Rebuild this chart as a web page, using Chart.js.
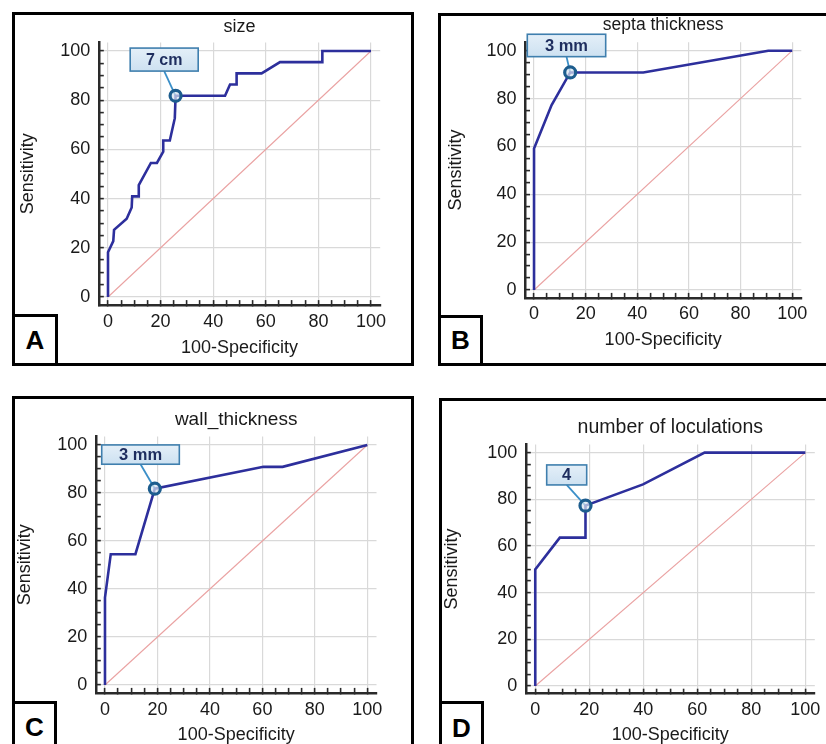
<!DOCTYPE html>
<html><head><meta charset="utf-8">
<script src="https://cdn.jsdelivr.net/npm/chart.js@4.4.1/dist/chart.umd.min.js"></script>
<style>
html,body{margin:0;padding:0;background:#fff;width:826px;height:744px;overflow:hidden;position:relative;}
.frame{position:absolute;border:3px solid #000;box-sizing:border-box;}
canvas{position:absolute;}
.letter{position:absolute;border:3px solid #000;box-sizing:border-box;background:#fff;display:flex;align-items:center;justify-content:center;font:bold 26px 'Liberation Sans',Arial,sans-serif;color:#000;}
</style></head><body>
<div class="frame" style="left:12px;top:12px;width:402px;height:354px"></div>
<div class="frame" style="left:438px;top:13px;width:410px;height:353px"></div>
<div class="frame" style="left:12px;top:396px;width:402px;height:400px"></div>
<div class="frame" style="left:439px;top:398px;width:410px;height:400px"></div>
<canvas id="cA" width="402" height="354" style="left:12px;top:12px"></canvas>
<canvas id="cB" width="388" height="354" style="left:438px;top:12px"></canvas>
<canvas id="cC" width="402" height="360" style="left:12px;top:396px"></canvas>
<canvas id="cD" width="387" height="360" style="left:439px;top:398px"></canvas>
<div class="letter" style="left:12px;top:314px;width:46px;height:52px">A</div>
<div class="letter" style="left:438px;top:315px;width:45px;height:51px">B</div>
<div class="letter" style="left:12px;top:701px;width:45px;height:53px">C</div>
<div class="letter" style="left:439px;top:701px;width:45px;height:54px">D</div>
<script>
// ---------- data ----------
const tickValues = [0,5,10,15,20,25,30,35,40,45,50,55,60,65,70,75,80,85,90,95,100];
const tickLabels = [0,20,40,60,80,100];
const chanceX = [0,100];
const chanceY = [0,100];

const titles = ['size','septa thickness','wall_thickness','number of loculations'];
const xAxisTitle = '100-Specificity';
const yAxisTitle = 'Sensitivity';

const sizeX = [0, 0, 2.0, 2.3, 7.1, 9.0, 9.2, 11.5, 11.7, 16.3, 18.6, 21.0, 21.0, 23.5, 25.4, 25.7, 44.5, 46.4, 48.9, 48.9, 58.4, 65.4, 81.5, 81.5, 100];
const sizeY = [0, 18.2, 22.7, 27.3, 31.8, 36.4, 40.9, 40.9, 45.5, 54.5, 54.5, 59.1, 63.6, 63.6, 72.7, 81.8, 81.8, 86.4, 86.4, 90.9, 90.9, 95.5, 95.5, 100, 100];

const septaX = [0, 0, 6.8, 14.0, 42.3, 90.7, 100];
const septaY = [0, 59.1, 77.3, 90.9, 90.9, 100, 100];

const wallX = [0, 0, 2.2, 11.6, 19.0, 60.4, 67.7, 100];
const wallY = [0, 36.4, 54.5, 54.5, 81.8, 90.9, 90.9, 100];

const locX = [0, 0, 9.1, 18.6, 18.6, 39.9, 62.7, 100];
const locY = [0, 50, 63.6, 63.6, 77.3, 86.4, 100, 100];

const curvesX = [sizeX, septaX, wallX, locX];
const curvesY = [sizeY, septaY, wallY, locY];

const cutoffX = [25.7, 14.0, 19.0, 18.6];
const cutoffY = [81.8, 90.9, 81.8, 77.3];
const cutoffLabels = ['7 cm', '3 mm', '3 mm', '4'];

// ---------- layout / style ----------
const FONT = "'Liberation Sans', Arial, sans-serif";
const X_MIN = -3.5, X_MAX = 103.5, Y_MIN = -3.3, Y_MAX = 103.5;
const TICK_LEN = 5;
const layouts = [
  {canvas:'cA', w:402, h:354, area:[86.8, 30.4, 368.2, 293.1], titleSize:18, titleMid:14.6, yTitleMid:16.3, xTitleMid:336.3, xTickGap:5.8, yTickGap:8.5, box:[-11.4,-36.2,68,23], boxFont:16},
  {canvas:'cB', w:388, h:354, area:[87.0, 30.3, 363.3, 285.9], titleSize:17.5, titleMid:13.6, yTitleMid:17.6, xTitleMid:327.9, xTickGap:5.5, yTickGap:8.5, box:[-3.7,-27,78.4,22.4], boxFont:16.5},
  {canvas:'cC', w:402, h:360, area:[83.8, 40.6, 364.5, 296.9], titleSize:19, titleMid:24, yTitleMid:12.9, xTitleMid:338.9, xTickGap:6.3, yTickGap:8.5, box:[-14.3,-34.1,77.6,19.3], boxFont:16.5},
  {canvas:'cD', w:387, h:360, area:[86.8, 46.5, 375.8, 295.7], titleSize:19.5, titleMid:30, yTitleMid:12.9, xTitleMid:336.9, xTickGap:6.0, yTickGap:8.5, box:[-18.8,-30.7,40,20], boxFont:16.5}
];

const cutoffBoxPlugin = {
  id: 'cutoffBox',
  beforeDatasetsDraw(chart, args, o) {
    const p = chart.getDatasetMeta(0).data[0];
    const cx = p.x + o.dx, cy = p.y + o.dy;
    const ctx = chart.ctx;
    ctx.save();
    ctx.strokeStyle = '#3b8fc8';
    ctx.lineWidth = 1.8;
    ctx.beginPath();
    ctx.moveTo(cx, cy + o.h / 2);
    ctx.lineTo(p.x, p.y);
    ctx.stroke();
    ctx.restore();
  },
  afterDatasetsDraw(chart, args, o) {
    const p = chart.getDatasetMeta(0).data[0];
    const cx = p.x + o.dx, cy = p.y + o.dy;
    const x = cx - o.w / 2, y = cy - o.h / 2;
    const ctx = chart.ctx;
    ctx.save();
    const g = ctx.createLinearGradient(0, y, 0, y + o.h);
    g.addColorStop(0, '#e4eff8');
    g.addColorStop(1, '#cde1f1');
    ctx.fillStyle = g;
    ctx.fillRect(x, y, o.w, o.h);
    ctx.strokeStyle = '#3f7fae';
    ctx.lineWidth = 1.6;
    ctx.strokeRect(x, y, o.w, o.h);
    ctx.fillStyle = '#1e2d5e';
    ctx.font = 'bold ' + o.font + 'px ' + FONT;
    ctx.textAlign = 'center';
    ctx.textBaseline = 'middle';
    ctx.fillText(o.text, cx, cy + 1);
    ctx.restore();
  }
};

function makeScale(axis, L) {
  const lh = 18 * 1.2;
  const isX = axis === 'x';
  return {
    type: 'linear',
    position: isX ? 'bottom' : 'left',
    min: isX ? X_MIN : Y_MIN,
    max: isX ? X_MAX : Y_MAX,
    bounds: 'data',
    afterBuildTicks: s => { s.ticks = tickValues.map(v => ({value: v})); },
    afterFit: s => {
      if (isX) { s.height = L.h - L.area[3]; s.paddingLeft = 0; s.paddingRight = 0; }
      else { s.width = L.area[0]; s.paddingTop = 0; s.paddingBottom = 0; }
    },
    border: {display: true, color: '#2a2a2a', width: 2.5},
    grid: {
      color: c => (c.tick && tickLabels.includes(c.tick.value)) ? '#d9d9d9' : 'rgba(0,0,0,0)',
      lineWidth: 1.2,
      drawTicks: true,
      tickLength: -TICK_LEN,
      tickColor: '#2a2a2a',
      tickWidth: 1.6
    },
    ticks: {
      autoSkip: false,
      maxRotation: 0,
      minRotation: 0,
      padding: (isX ? L.xTickGap : L.yTickGap) + TICK_LEN,
      color: '#1a1a1a',
      font: {family: FONT, size: 18},
      callback: v => tickLabels.includes(v) ? String(v) : ''
    },
    title: {
      display: true,
      text: isX ? xAxisTitle : yAxisTitle,
      color: '#1a1a1a',
      font: {family: FONT, size: 18},
      padding: isX ? {top: 0, bottom: L.h - L.xTitleMid - lh / 2} : {top: L.yTitleMid - lh / 2, bottom: 0}
    }
  };
}

layouts.forEach((L, i) => {
  const tlh = L.titleSize * 1.2;
  const tpt = L.titleMid - tlh / 2;
  const tpb = L.area[1] - tpt - tlh;
  new Chart(document.getElementById(L.canvas), {
    type: 'scatter',
    data: {
      datasets: [
        {
          data: [{x: cutoffX[i], y: cutoffY[i]}],
          pointRadius: 5.5,
          pointBorderWidth: 3.2,
          pointBorderColor: '#1d5d8e',
          pointBackgroundColor: 'rgba(215,228,240,0.7)',
          showLine: false
        },
        {
          data: curvesX[i].map((v, k) => ({x: v, y: curvesY[i][k]})),
          showLine: true,
          borderColor: '#2d2f9c',
          borderWidth: 2.6,
          pointRadius: 0,
          tension: 0,
          fill: false
        },
        {
          data: chanceX.map((v, k) => ({x: v, y: chanceY[k]})),
          showLine: true,
          borderColor: '#eaa2a2',
          borderWidth: 1.1,
          pointRadius: 0,
          fill: false
        }
      ]
    },
    options: {
      responsive: false,
      animation: false,
      devicePixelRatio: 1,
      layout: {padding: {left: 0, top: 0, right: L.w - L.area[2], bottom: 0}},
      scales: {x: makeScale('x', L), y: makeScale('y', L)},
      plugins: {
        legend: {display: false},
        tooltip: {enabled: false},
        title: {
          display: true,
          text: titles[i],
          fullSize: false,
          color: '#1a1a1a',
          font: {family: FONT, size: L.titleSize, weight: 'normal'},
          padding: {top: tpt, bottom: tpb}
        },
        cutoffBox: {dx: L.box[0], dy: L.box[1], w: L.box[2], h: L.box[3], text: cutoffLabels[i], font: L.boxFont}
      }
    },
    plugins: [cutoffBoxPlugin]
  });
});
</script>
</body></html>
